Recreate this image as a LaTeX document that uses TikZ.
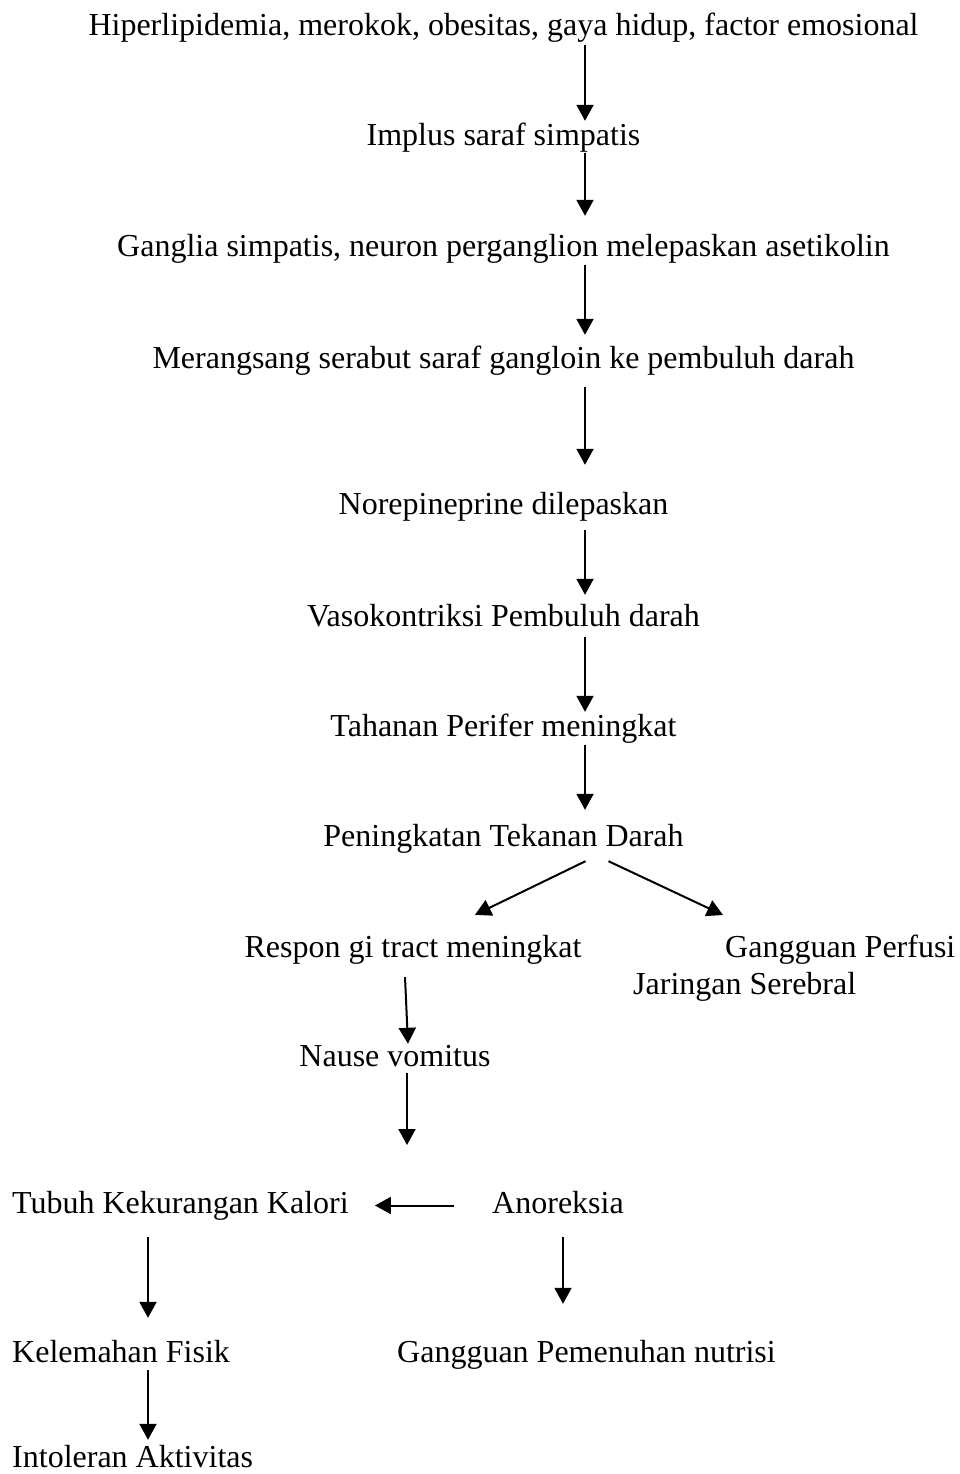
\documentclass[tikz,border=0pt]{standalone}
\usepackage{fontspec}
\setmainfont{Liberation Serif}
\usepackage{tikz}
\usetikzlibrary{arrows.meta}

\tikzset{
  lbl/.style={font=\fontsize{32}{37}\selectfont, inner sep=0pt, anchor=base, text height=22pt, text depth=7pt},
  arr/.style={-{Triangle[length=16pt,width=17pt]}, line width=2pt}
}

\begin{document}
\begin{tikzpicture}[x=1pt,y=-1pt]
            \useasboundingbox (0,0) rectangle (960,1474);

            \node[lbl] (hiper) at (503.5,36) {Hiperlipidemia, merokok, obesitas, gaya hidup, factor emosional};
            \node[lbl] (implus) at (503.5,146) {Implus saraf simpatis};
            \node[lbl] (ganglia) at (503.5,256) {Ganglia simpatis, neuron perganglion melepaskan asetikolin};
            \node[lbl] (serabut) at (503.5,368) {Merangsang serabut saraf gangloin ke pembuluh darah};
            \node[lbl] (norepi) at (503.5,514) {Norepineprine dilepaskan};
            \node[lbl] (vaso) at (503.5,626) {Vasokontriksi Pembuluh darah};
            \node[lbl] (tahanan) at (503.5,736) {Tahanan Perifer meningkat};
            \node[lbl] (tekanan) at (503.5,846) {Peningkatan Tekanan Darah};

            \node[lbl] (respon) at (413,957) {Respon gi tract meningkat};
            \node[lbl, text height=, text depth=, anchor=north west, align=left] (perfusi) at (633,935)
                {\hspace*{92pt}Gangguan Perfusi\\Jaringan Serebral};
            \node[lbl] (nause) at (395,1066) {Nause vomitus};

            \node[lbl, anchor=base west] (tubuh) at (12,1213) {Tubuh Kekurangan Kalori};
            \node[lbl] (anoreksia) at (558,1213) {Anoreksia};
            \node[lbl, anchor=base west] (lemah) at (12,1362) {Kelemahan Fisik};
            \node[lbl] (nutrisi) at (586.5,1362) {Gangguan Pemenuhan nutrisi};
            \node[lbl, anchor=base west] (intoleran) at (12,1467) {Intoleran Aktivitas};

            \coordinate (ax) at (585,0);
            \coordinate (bx) at (148,0);
            \coordinate (cx) at (563,0);
            \coordinate (nvend) at (407,1145);

            \draw[arr, shorten <=2pt, shorten >=3pt] (hiper.south -| ax) -- (implus.north -| ax);
            \draw[arr, shorten >=18pt] (implus.south -| ax) -- (ganglia.north -| ax);
            \draw[arr, shorten <=2pt, shorten >=11pt] (ganglia.south -| ax) -- (serabut.north -| ax);
            \draw[arr, shorten <=12pt, shorten >=27pt] (serabut.south -| ax) -- (norepi.north -| ax);
            \draw[arr, shorten <=9pt, shorten >=9pt] (norepi.south -| ax) -- (vaso.north -| ax);
            \draw[arr, shorten <=4pt, shorten >=2pt] (vaso.south -| ax) -- (tahanan.north -| ax);
            \draw[arr, shorten <=2pt, shorten >=14pt] (tahanan.south -| ax) -- (tekanan.north -| ax);

            \draw[arr] ([xshift=82pt,yshift=-8pt]tekanan.south) -- ([xshift=62pt,yshift=20pt]respon.north);
            \draw[arr] ([xshift=105pt,yshift=-8pt]tekanan.south) -- ([xshift=90pt,yshift=20pt]perfusi.north west);
            \draw[arr] ([xshift=-8pt,yshift=-13pt]respon.south) -- ([xshift=13pt]nause.north);
            \draw[arr] ([xshift=12pt]nause.south) -- (nvend);

            \draw[arr, shorten <=38pt, shorten >=26pt] (anoreksia.west) -- (tubuh.east);
            \draw[arr, shorten <=17pt, shorten >=22pt] (tubuh.south -| bx) -- (lemah.north -| bx);
            \draw[arr, shorten <=17pt, shorten >=36pt] (anoreksia.south -| cx) -- (nutrisi.north -| cx);
            \draw[arr, shorten <=1pt, shorten >=5pt] (lemah.south -| bx) -- (intoleran.north -| bx);
\end{tikzpicture}
\end{document}
